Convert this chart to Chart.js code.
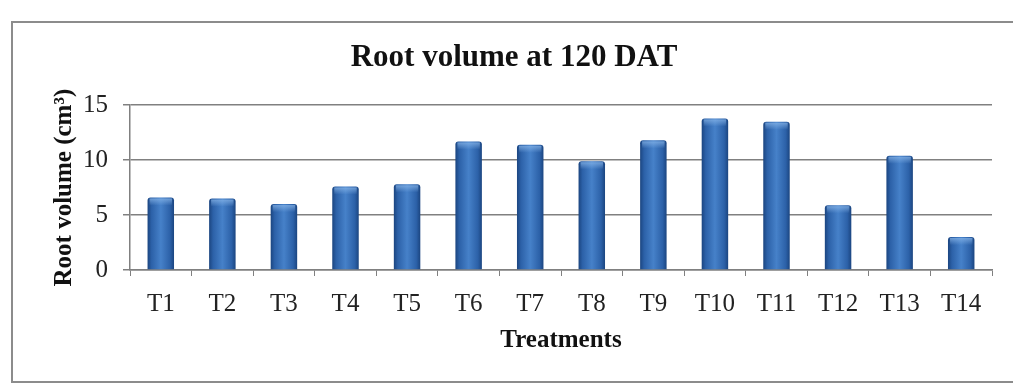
<!DOCTYPE html>
<html>
<head>
<meta charset="utf-8">
<script src="https://cdn.jsdelivr.net/npm/chart.js@4.4.1/dist/chart.umd.min.js"></script>
<style>
  html, body { margin: 0; padding: 0; background: #fff; }
  #wrap { position: relative; width: 1013px; height: 385px; overflow: hidden; }
  #frame { position: absolute; left: 11px; top: 21px; width: 1010px; height: 362px;
           border: 2px solid #8c8c8c; box-sizing: border-box; }
  canvas { position: absolute; left: 0; top: 0; }
</style>
</head>
<body>
<div id="wrap">
  <div id="frame"></div>
  <canvas id="c" width="1013" height="385"></canvas>
</div>
<script>
const categories = ['T1','T2','T3','T4','T5','T6','T7','T8','T9','T10','T11','T12','T13','T14'];
const rootVolume = [6.6, 6.5, 6.0, 7.6, 7.8, 11.7, 11.4, 9.9, 11.8, 13.8, 13.5, 5.9, 10.4, 3.0];
const yTicks = [0, 5, 10, 15];
const titleText = 'Root volume at 120 DAT';
const yTitle = 'Root volume (cm³)';
const xTitle = 'Treatments';

const serif = '"Liberation Serif", "Times New Roman", serif';

const gradientBars = {
  id: 'gradientBars',
  afterDatasetsDraw(chart) {
    const ctx = chart.ctx;
    const meta = chart.getDatasetMeta(0);
    meta.data.forEach(el => {
      const w = el.width, x0 = el.x - w / 2, top = el.y, base = el.base;
      const g = ctx.createLinearGradient(x0, 0, x0 + w, 0);
      g.addColorStop(0, '#1b4580');
      g.addColorStop(0.15, '#2c61a8');
      g.addColorStop(0.5, '#4681c9');
      g.addColorStop(0.85, '#2c61a8');
      g.addColorStop(1, '#1b4580');
      ctx.save();
      ctx.fillStyle = g;
      ctx.beginPath();
      const r = 3;
      ctx.moveTo(x0, base);
      ctx.lineTo(x0, top + r);
      ctx.quadraticCurveTo(x0, top, x0 + r, top);
      ctx.lineTo(x0 + w - r, top);
      ctx.quadraticCurveTo(x0 + w, top, x0 + w, top + r);
      ctx.lineTo(x0 + w, base);
      ctx.closePath();
      ctx.fill();
      const hg = ctx.createLinearGradient(0, top, 0, top + 8);
      hg.addColorStop(0, 'rgba(140,185,235,0.8)');
      hg.addColorStop(1, 'rgba(140,185,235,0)');
      ctx.fillStyle = hg;
      ctx.fillRect(x0 + 2, top + 1, w - 4, 7);
      ctx.restore();
    });
  }
};

new Chart(document.getElementById('c'), {
  type: 'bar',
  data: {
    labels: categories,
    datasets: [{
      data: rootVolume,
      backgroundColor: 'rgba(0,0,0,0)',
      barPercentage: 0.86,
      categoryPercentage: 0.5
    }]
  },
  options: {
    responsive: false,
    animation: false,
    devicePixelRatio: 1,
    layout: { padding: { left: 36, right: 21, top: 0, bottom: 0 } },
    plugins: {
      legend: { display: false },
      tooltip: { enabled: false },
      title: {
        display: true,
        text: titleText,
        color: '#111',
        font: { family: serif, size: 31, weight: 'bold' },
        padding: { top: 39, bottom: 29 }
      }
    },
    scales: {
      x: {
        afterFit(s) { s.height = 115; },
        grid: { display: true, drawOnChartArea: false, drawTicks: true, tickLength: 6, color: '#808080', offset: true },
        border: { display: true, color: '#808080', width: 1.5 },
        ticks: { color: '#222', font: { family: serif, size: 25 }, padding: 13 },
        title: { display: true, text: xTitle, color: '#111', font: { family: serif, size: 25, weight: 'bold' }, padding: { top: 0, bottom: 29 } }
      },
      y: {
        min: 0, max: 15,
        afterFit(s) { s.width = 94; },
        afterBuildTicks(s) { s.ticks = yTicks.map(v => ({ value: v })); },
        grid: { color: '#808080', lineWidth: 1.5, tickLength: 7 },
        border: { display: true, color: '#808080', width: 1.5 },
        ticks: { color: '#222', font: { family: serif, size: 25 }, padding: 15 },
        title: { display: true, text: yTitle, color: '#111', font: { family: serif, size: 25, weight: 'bold' }, padding: { top: 14, bottom: 0 } }
      }
    }
  },
  plugins: [gradientBars]
});
</script>
</body>
</html>
